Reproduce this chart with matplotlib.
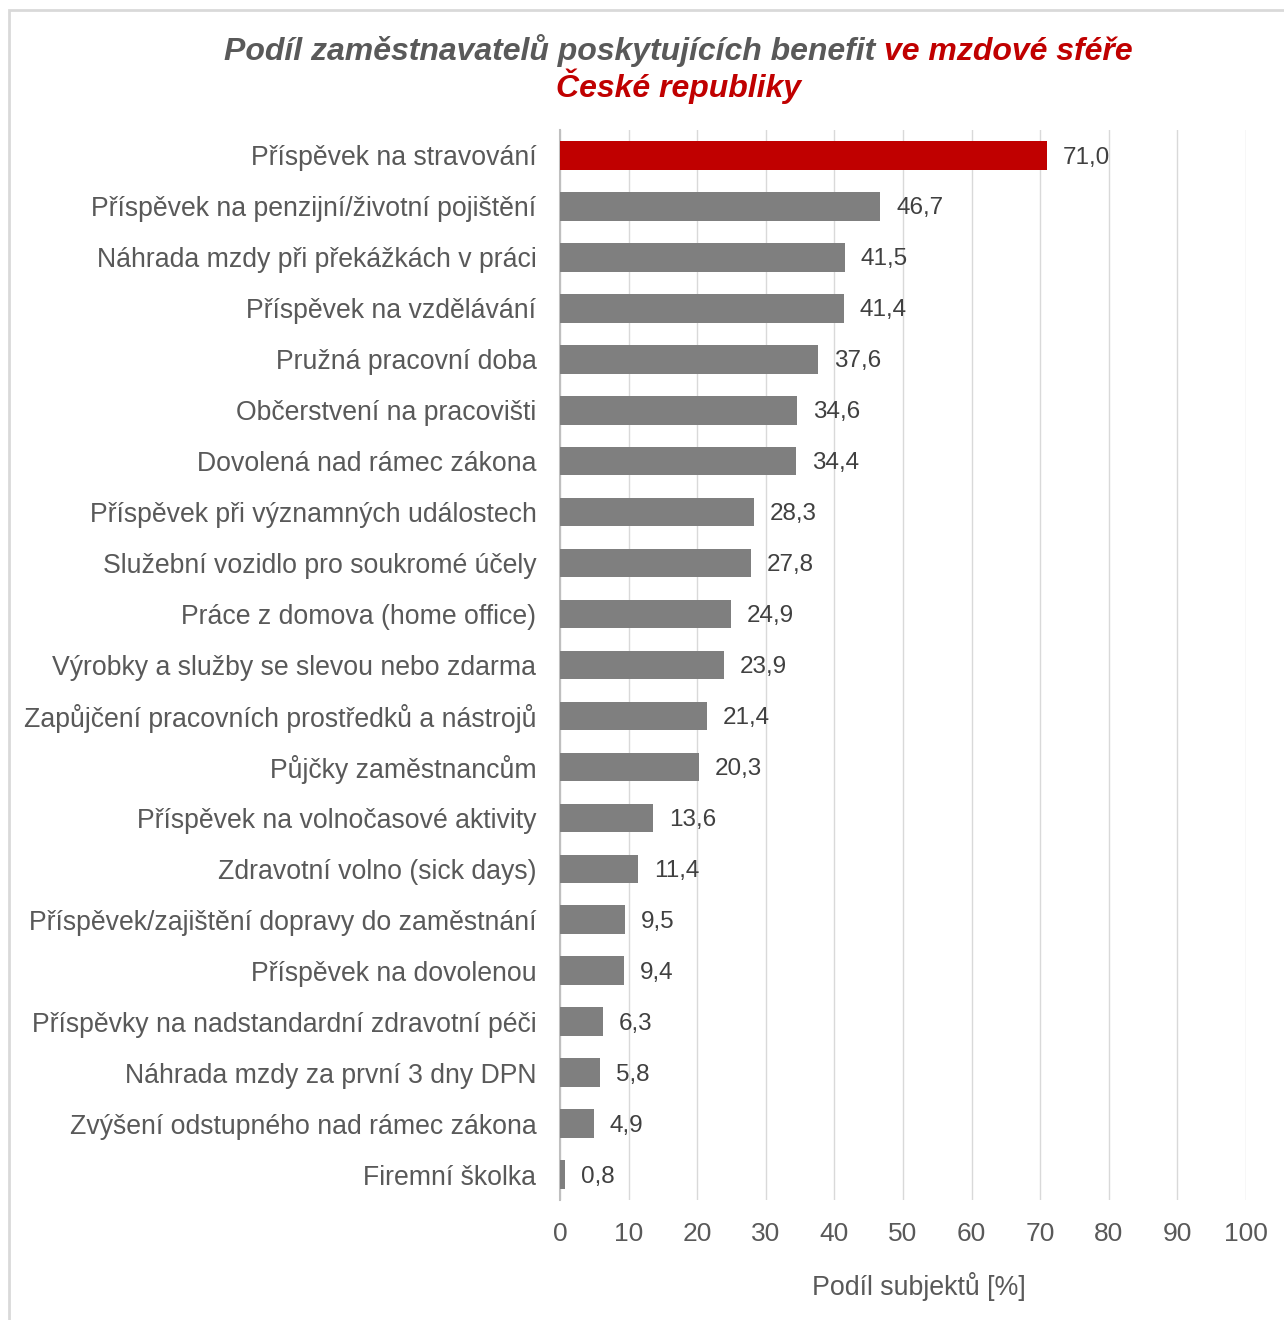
import matplotlib
matplotlib.use("Agg")
import matplotlib.pyplot as plt
import numpy as np

plt.rcParams['font.family'] = ['Liberation Sans', 'DejaVu Sans']

# Podíl zaměstnavatelů poskytujících jednotlivé benefity (%)
kategorie = [
    "Příspěvek na stravování",
    "Příspěvek na penzijní/životní pojištění",
    "Náhrada mzdy při překážkách v práci",
    "Příspěvek na vzdělávání",
    "Pružná pracovní doba",
    "Občerstvení na pracovišti",
    "Dovolená nad rámec zákona",
    "Příspěvek při významných událostech",
    "Služební vozidlo pro soukromé účely",
    "Práce z domova (home office)",
    "Výrobky a služby se slevou nebo zdarma",
    "Zapůjčení pracovních prostředků a nástrojů",
    "Půjčky zaměstnancům",
    "Příspěvek na volnočasové aktivity",
    "Zdravotní volno (sick days)",
    "Příspěvek/zajištění dopravy do zaměstnání",
    "Příspěvek na dovolenou",
    "Příspěvky na nadstandardní zdravotní péči",
    "Náhrada mzdy za první 3 dny DPN",
    "Zvýšení odstupného nad rámec zákona",
    "Firemní školka",
]
podil = [71.0, 46.7, 41.5, 41.4, 37.6, 34.6, 34.4, 28.3, 27.8, 24.9,
         23.9, 21.4, 20.3, 13.6, 11.4, 9.5, 9.4, 6.3, 5.8, 4.9, 0.8]
x_ticks = list(range(0, 101, 10))

cervena = "#c00000"
seda = "#7f7f7f"
text_seda = "#595959"

fig = plt.figure(figsize=(12.84, 13.2), dpi=100)

# ramecek grafu
ramecek = plt.Rectangle((9 / 1284, -0.05), 1.1, 1 - 10 / 1320 + 0.05,
                        transform=fig.transFigure, fill=False,
                        edgecolor="#d9d9d9", linewidth=2)
fig.patches.append(ramecek)

ax = fig.add_axes([560 / 1284, 1 - 1200 / 1320, 686 / 1284, 1070 / 1320])

y = np.arange(len(kategorie))
barvy = [cervena] + [seda] * (len(kategorie) - 1)
ax.barh(y, podil, height=0.56, color=barvy, zorder=3)

for yi, v in zip(y, podil):
    ax.text(v + 2.3, yi + 0.04, f"{v:.1f}".replace(".", ","), va="center",
            ha="left", fontsize=17.5, color="#404040")

ax.set_xlim(0, 100)
ax.set_ylim(len(kategorie) - 0.5, -0.5)
ax.set_xticks(x_ticks)
ax.set_yticks(y)
ax.set_yticklabels(kategorie)
ax.tick_params(axis="y", length=0, pad=17, labelsize=19.2, labelcolor=text_seda)
ax.tick_params(axis="x", length=0, pad=16, labelsize=19, labelcolor=text_seda)
ax.grid(axis="x", color="#d9d9d9", linewidth=1, zorder=0)
for s in ["top", "right", "bottom"]:
    ax.spines[s].set_visible(False)
ax.spines["left"].set_color("#bfbfbf")
ax.spines["left"].set_linewidth(1.5)
ax.set_xlabel("Podíl subjektů [%]", fontsize=19.3, color=text_seda)
ax.xaxis.set_label_coords(0.523, -0.067)

# nadpis ve dvou barvach
cast1 = "Podíl zaměstnavatelů poskytujících benefit "
cast2 = "ve mzdové sféře"
styl = dict(fontsize=23, fontweight="bold", fontstyle="italic", va="baseline")
renderer = fig.canvas.get_renderer()
t1 = fig.text(0, 0, cast1, color=text_seda, **styl)
t2 = fig.text(0, 0, cast2, color=cervena, **styl)
w1 = t1.get_window_extent(renderer).width
w2 = t2.get_window_extent(renderer).width
stred = 678
x0 = stred - (w1 + w2) / 2
t1.set_position((x0 / 1284, 1 - 60 / 1320))
t2.set_position(((x0 + w1) / 1284, 1 - 60 / 1320))
fig.text(stred / 1284, 1 - 97 / 1320, "České republiky", color=cervena,
         ha="center", **styl)

fig.savefig("out.png", dpi=100)
